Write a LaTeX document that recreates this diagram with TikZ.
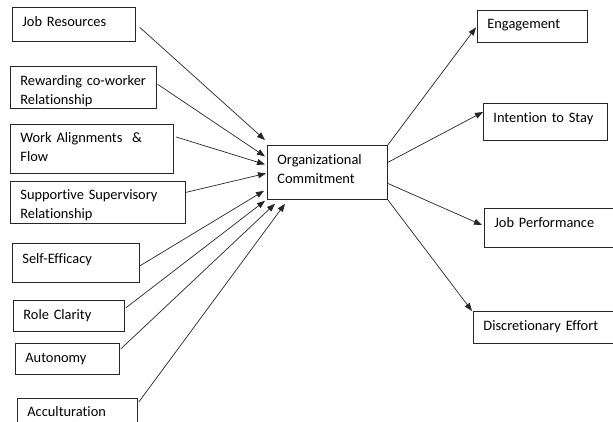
\documentclass[tikz,border=0pt]{standalone}
\usepackage{fontspec}
\usepackage{tikz}
\usetikzlibrary{arrows.meta, positioning}
\newfontfamily\boxfont[Ligatures=NoCommon]{Carlito}

\begin{document}
\begin{tikzpicture}[
  x=1pt, y=1pt,
  factor/.style={rectangle, draw=black!85, line width=0.8pt, anchor=north west, align=left, inner xsep=10pt, inner ysep=0pt, text height=19pt, font={\boxfont\fontsize{14.4}{19}\selectfont}},
  arrow/.style={-{Triangle[length=8pt,width=6pt]}, line width=0.7pt, black!85}
]
  \useasboundingbox (0,0) rectangle (613,-421);
  \clip (0,0) rectangle (613,-421);

  \node[factor, text width=103pt, text depth=15pt] (jobres) at (12,-7) {Job Resources};
  \node[factor, text width=126pt, text depth=23pt] (reward) at (10,-66) {Rewarding co-worker\\Relationship};
  \node[factor, text width=143pt, text height=18pt, text depth=31pt] (work) at (10,-124) {Work Alignments~~\&\\Flow};
  \node[factor, text width=155pt, text height=18pt, text depth=24pt] (support) at (10,-181) {Supportive Supervisory\\Relationship};
  \node[factor, text width=107pt, text height=20pt, text depth=19pt] (selfeff) at (12,-243) {Self-Efficacy};
  \node[factor, text width=91pt, text depth=12pt] (role) at (13,-300) {Role Clarity};
  \node[factor, text width=84pt, text depth=12pt] (autonomy) at (15,-343) {Autonomy};
  \node[factor, text width=100pt, text height=18pt, text depth=22pt] (accult) at (17,-398) {Acculturation};

  \node[factor, text width=100pt, text depth=35pt] (org) at (267,-145) {Organizational\\Commitment};

  \node[factor, text width=90pt, text height=18pt, text depth=14pt] (engage) at (477,-10) {Engagement};
  \node[factor, text width=104pt, text depth=18pt] (intent) at (483,-103) {Intention to Stay};
  \node[factor, text width=120pt, text depth=20pt] (jobperf) at (484,-208) {Job Performance};
  \node[factor, text width=131pt, text depth=13pt] (discret) at (473,-311) {Discretionary Effort};

  \draw[arrow] ([xshift=4pt,yshift=-3pt]jobres.east) -- ([xshift=-2pt,yshift=5pt]org.north west);
  \draw[arrow] ([xshift=1pt,yshift=3pt]reward.east) -- ([xshift=-2pt,yshift=16pt]org.west);
  \draw[arrow] ([xshift=2pt,yshift=12pt]work.east) -- ([xshift=-2pt,yshift=8pt]org.west);
  \draw[arrow] ([yshift=10pt]support.east) -- ([xshift=-1pt,yshift=-1pt]org.west);
  \draw[arrow] ([yshift=-3pt]selfeff.east) -- ([xshift=-3pt,yshift=9pt]org.south west);
  \draw[arrow] ([xshift=1pt,yshift=8pt]role.east) -- ([xshift=-2pt,yshift=-1pt]org.south west);
  \draw[arrow] ([xshift=1pt,yshift=10pt]autonomy.east) -- ([xshift=8pt,yshift=-4pt]org.south west);
  \draw[arrow] ([xshift=1pt,yshift=-4pt]accult.north east) -- ([xshift=18pt,yshift=-4pt]org.south west);

  \draw[arrow] (org.north east) -- ([xshift=-1pt,yshift=-1pt]engage.west);
  \draw[arrow] ([yshift=10pt]org.east) -- ([yshift=-9pt]intent.north west);
  \draw[arrow] ([yshift=-11pt]org.east) -- ([xshift=-2pt,yshift=-17pt]jobperf.north west);
  \draw[arrow] (org.south east) -- ([xshift=-1pt]discret.north west);
\end{tikzpicture}
\end{document}
